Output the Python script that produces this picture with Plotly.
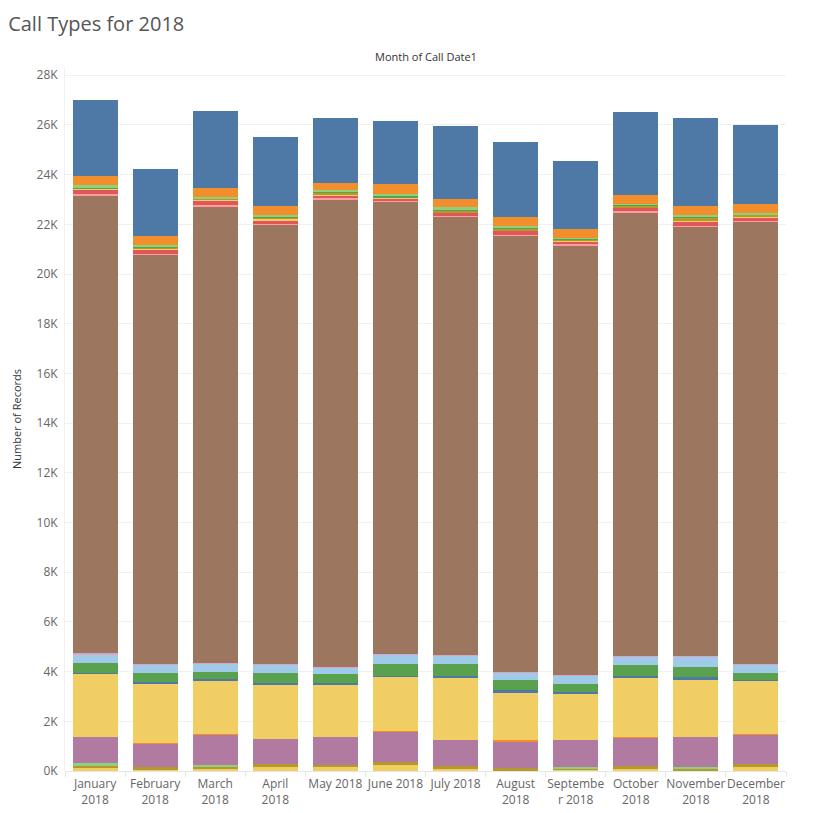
import plotly.graph_objects as go

months = ["January<br>2018", "February<br>2018", "March<br>2018", "April<br>2018",
          "May 2018", "June 2018", "July 2018", "August<br>2018", "Septembe<br>r 2018",
          "October<br>2018", "November<br>2018", "December<br>2018"]

# stacked layers, bottom to top
yellow_bottom = [120, 80, 80, 200, 200, 240, 120, 40, 80, 120, 40, 160]
olive_bottom = [120, 80, 120, 80, 40, 120, 80, 80, 40, 80, 80, 120]
lightgreen_bottom = [80, 0, 40, 0, 0, 0, 0, 0, 40, 0, 40, 0]
purple = [1048, 927, 1210, 1008, 1129, 1210, 1048, 1048, 1089, 1129, 1210, 1169]
orange_low = [0, 40, 40, 0, 0, 40, 0, 60, 0, 40, 0, 40]
yellow_main = [2540, 2379, 2137, 2177, 2097, 2177, 2500, 1935, 1855, 2379, 2298, 2137]
blue_low = [40, 80, 80, 80, 80, 40, 80, 80, 80, 80, 120, 40]
green = [403, 363, 282, 403, 363, 484, 484, 403, 323, 444, 403, 282]
lightblue = [350, 323, 335, 323, 255, 363, 323, 323, 323, 335, 403, 335]
lightpurple = [30, 30, 30, 30, 30, 30, 30, 30, 30, 30, 30, 30]
brown = [18444, 16470, 18363, 17679, 18806, 18202, 17638, 17558, 17276, 17840, 17276, 17799]
pink = [40, 40, 40, 50, 70, 40, 40, 30, 60, 40, 40, 40]
red = [200, 190, 200, 140, 90, 80, 120, 160, 110, 150, 160, 120]
yellow_top = [20, 15, 40, 50, 40, 40, 30, 20, 50, 20, 40, 50]
olive_top = [20, 40, 40, 50, 80, 30, 80, 70, 40, 60, 130, 70]
green_top = [40, 30, 20, 30, 40, 40, 20, 30, 30, 30, 40, 10]
lightgreen_top = [80, 80, 40, 80, 80, 100, 120, 50, 20, 40, 70, 70]
orange_top = [363, 363, 363, 363, 282, 403, 323, 363, 363, 350, 363, 363]
blue_top = [3064, 2701, 3105, 2782, 2580, 2500, 2903, 3024, 2742, 3347, 3548, 3145]

y_ticks = list(range(0, 28001, 2000))
y_tick_labels = [f"{v // 1000}K" for v in y_ticks]

layers = [
    ("Type A", yellow_bottom, "#f1ce63"),
    ("Type B", olive_bottom, "#b6992d"),
    ("Type C", lightgreen_bottom, "#8cd17d"),
    ("Type D", purple, "#b07aa1"),
    ("Type E", orange_low, "#f28e2b"),
    ("Type F", yellow_main, "#f1ce63"),
    ("Type G", blue_low, "#4e79a7"),
    ("Type H", green, "#59a14f"),
    ("Type I", lightblue, "#a0cbe8"),
    ("Type J", lightpurple, "#d4a6c8"),
    ("Type K", brown, "#9d7660"),
    ("Type L", pink, "#ff9d9a"),
    ("Type M", red, "#e15759"),
    ("Type N", yellow_top, "#f1ce63"),
    ("Type O", olive_top, "#b6992d"),
    ("Type P", green_top, "#59a14f"),
    ("Type Q", lightgreen_top, "#8cd17d"),
    ("Type R", orange_top, "#f28e2b"),
    ("Type S", blue_top, "#4e79a7"),
]

fig = go.Figure()
for name, vals, color in layers:
    fig.add_trace(go.Bar(x=months, y=vals, name=name, marker_color=color,
                         marker_line_width=0))

font_family = "Open Sans, Lato, sans-serif"
top_m, bot_m = 67, 42
plot_h = 813 - top_m - bot_m
fig.update_layout(
    barmode="stack",
    bargap=0.25,
    width=816, height=813,
    margin=dict(l=65, r=30, t=top_m, b=bot_m),
    plot_bgcolor="white",
    paper_bgcolor="white",
    showlegend=False,
    font=dict(family=font_family, color="#666666", size=12),
    title=dict(text="Call Types for 2018", x=0.01, xanchor="left",
               y=1 - 24 / 813, yanchor="middle",
               font=dict(size=20, color="#555555", family=font_family)),
    xaxis=dict(
        type="category",
        tickson="boundaries",
        ticks="outside", ticklen=5, tickcolor="#e6e6e6",
        tickangle=0,
        ticklabelstandoff=4,
        showgrid=False,
        showline=False,
        tickfont=dict(size=12, color="#666666"),
        automargin=False,
    ),
    yaxis=dict(
        range=[0, 28330],
        tickvals=y_ticks, ticktext=y_tick_labels,
        showgrid=True, gridcolor="#f0f0f0", gridwidth=1,
        zeroline=True, zerolinecolor="#e6e6e6", zerolinewidth=1,
        showline=True, linecolor="#f0f0f0",
        ticklabelstandoff=4,
        tickfont=dict(size=12, color="#666666"),
        title=dict(text="Number of Records", font=dict(size=11, color="#333333"), standoff=12),
        automargin=False,
    ),
    annotations=[
        dict(text="Month of Call Date1", x=0.5, xref="paper",
             y=1 + (top_m - 56) / plot_h, yref="paper",
             showarrow=False, font=dict(size=11, color="#333333"), yanchor="middle"),
    ],
)

fig.write_html("out.html", config={"displayModeBar": False},
               post_script="document.body.style.margin='0';")
